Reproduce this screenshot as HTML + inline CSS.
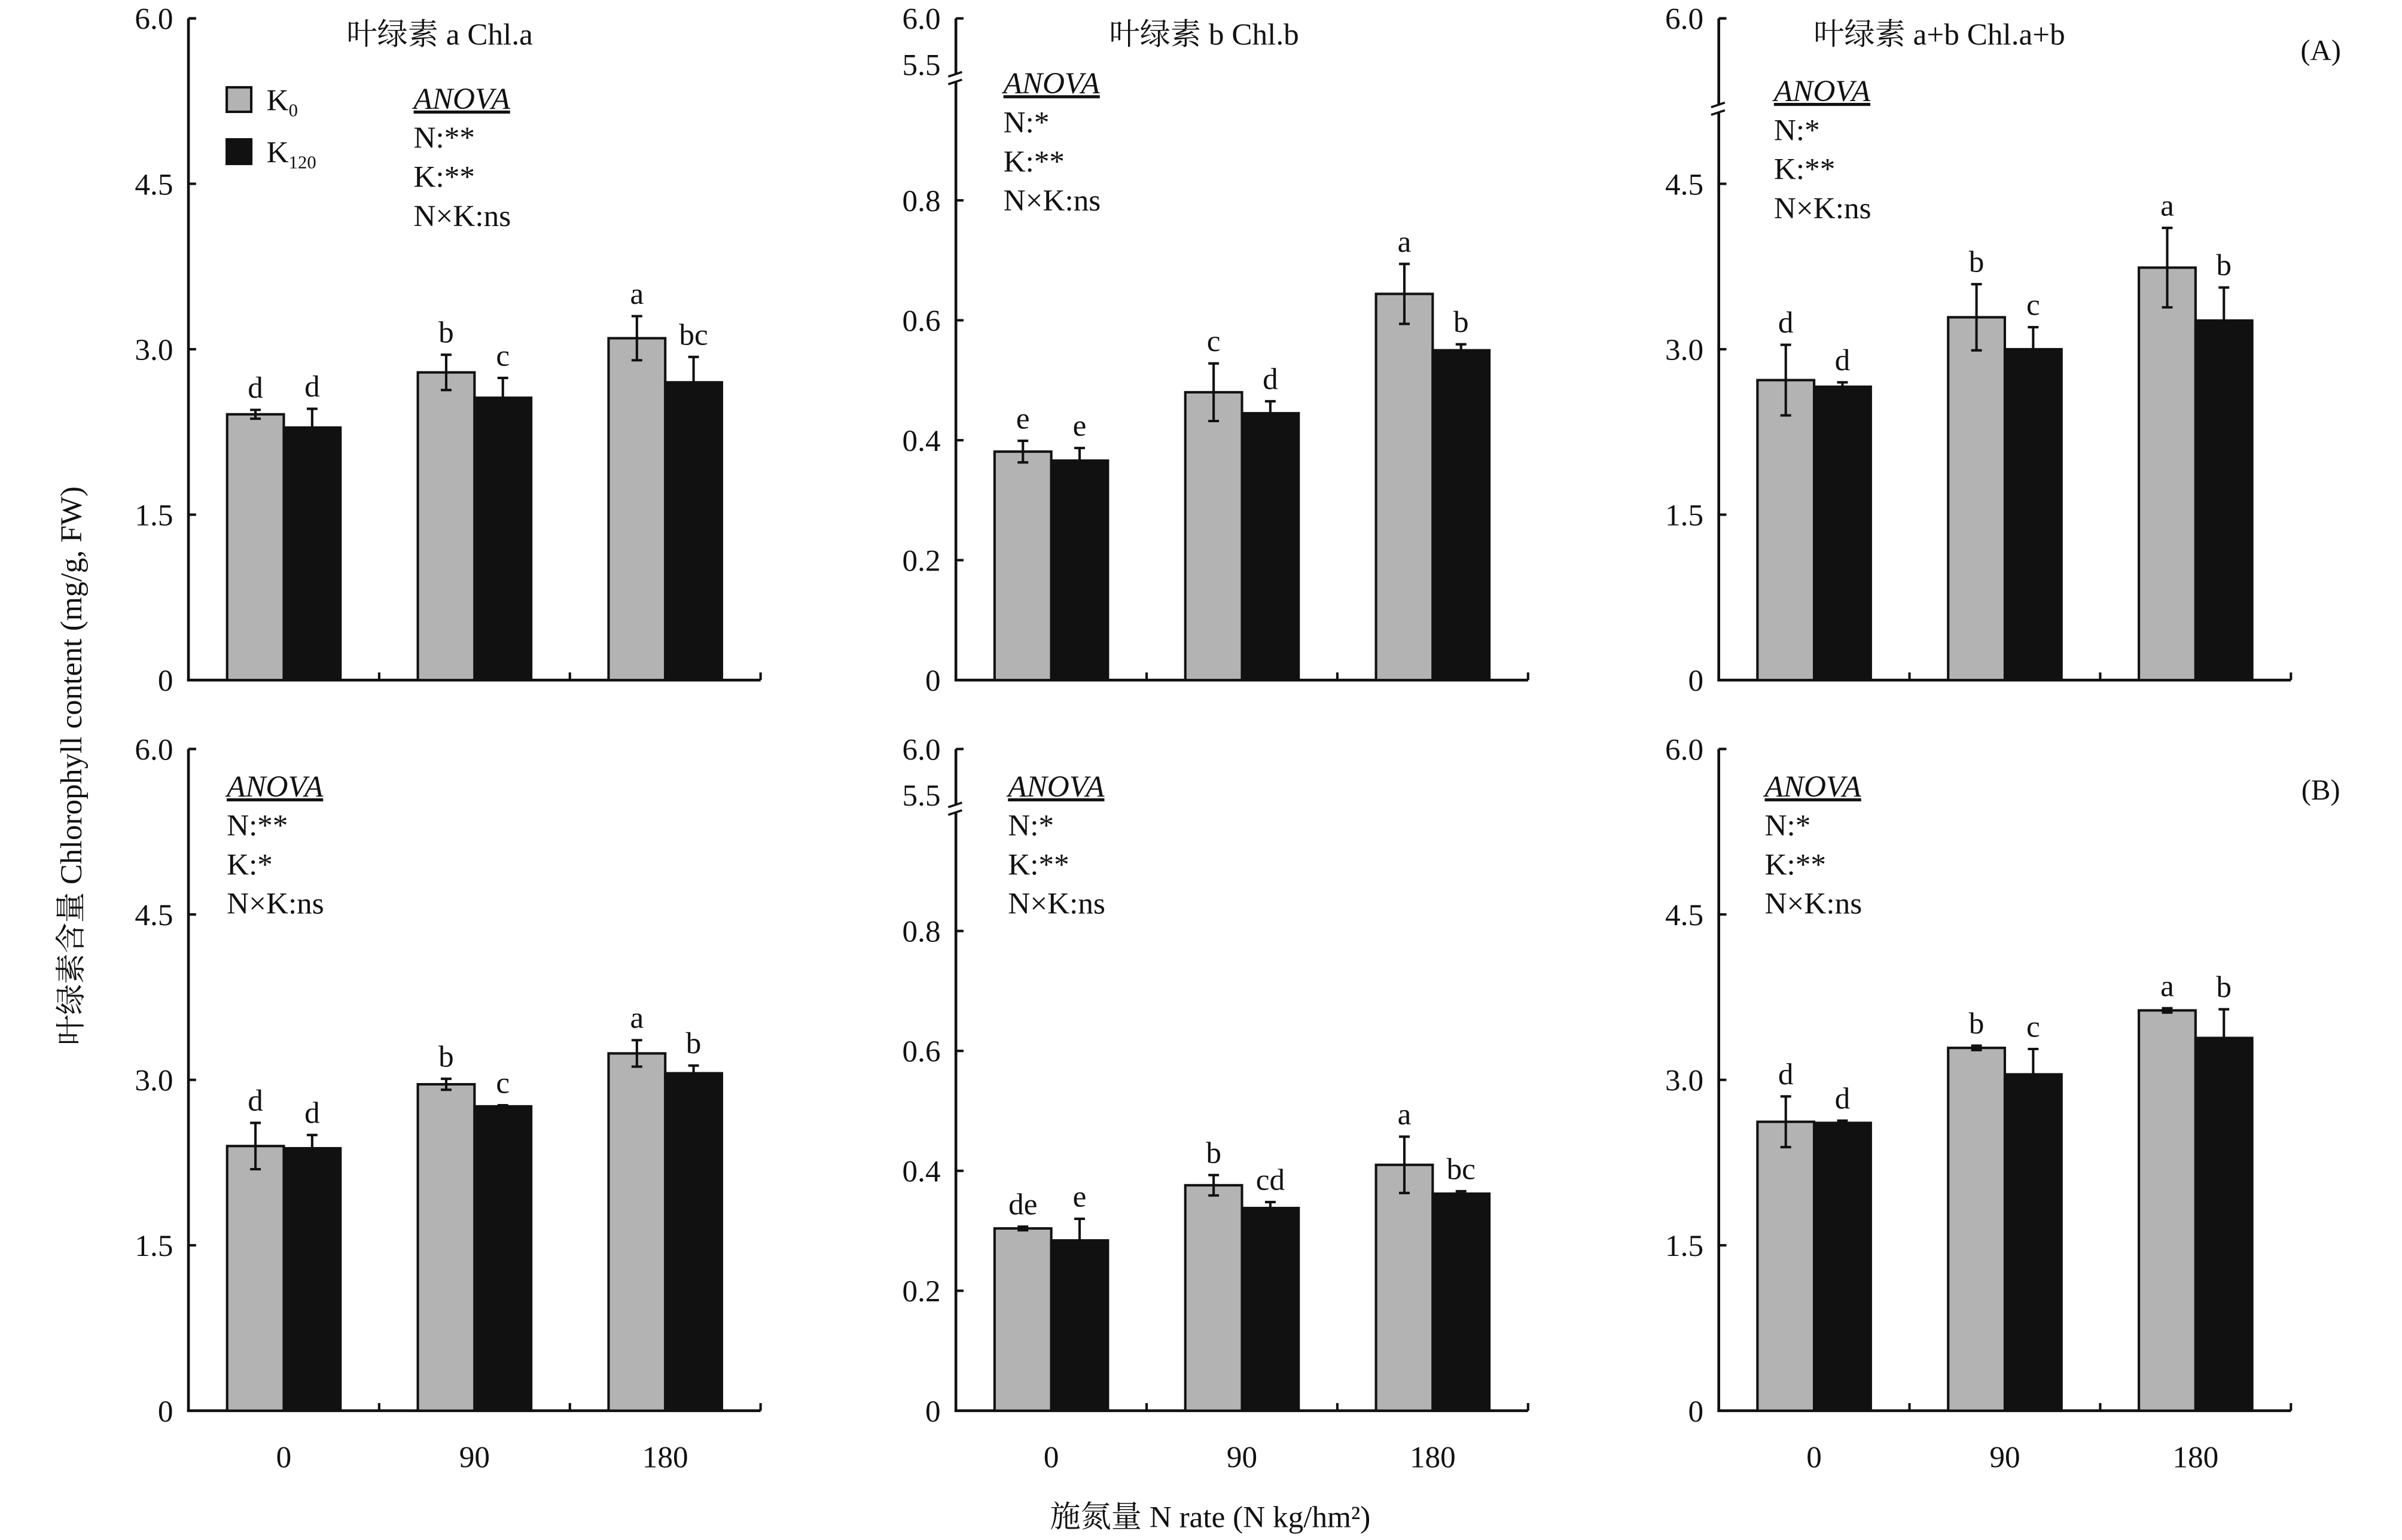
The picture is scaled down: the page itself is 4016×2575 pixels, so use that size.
<!DOCTYPE html>
<html><head><meta charset="utf-8"><style>
html,body{margin:0;padding:0;background:#fff;}
svg{display:block;}
text{font-family:"Liberation Serif","Noto Serif CJK SC","Noto Sans CJK SC",serif;fill:#111;}
</style></head><body>
<svg id="fig" width="4016" height="2575" viewBox="0 0 1568 1005.4" xmlns="http://www.w3.org/2000/svg">
<text x="0" y="0" font-size="20" text-anchor="middle" transform="translate(53,500) rotate(-90)">叶绿素含量 Chlorophyll content (mg/g, FW)</text>
<text x="790" y="997" font-size="20" text-anchor="middle">施氮量 N rate (N kg/hm²)</text>
<text x="1515" y="39" font-size="19" text-anchor="middle">(A)</text>
<text x="1515" y="522" font-size="19" text-anchor="middle">(B)</text>
<g>
<rect x="148" y="57" width="16" height="16" fill="#b3b3b3" stroke="#111" stroke-width="1.6"/>
<text x="174" y="72" font-size="20">K<tspan font-size="12" dy="4">0</tspan></text>
<rect x="148" y="91" width="16" height="16" fill="#111" stroke="#111" stroke-width="1.6"/>
<text x="174" y="106" font-size="20">K<tspan font-size="12" dy="4">120</tspan></text>
</g>
</svg>
<script>
const categories = ["0","90","180"];
const panelTitles = ["叶绿素 a Chl.a","叶绿素 b Chl.b","叶绿素 a+b Chl.a+b","","",""];
// panel order: top-left, top-mid, top-right, bottom-left, bottom-mid, bottom-right
const k0Values = [[2.41,2.79,3.10],[0.381,0.480,0.644],[2.72,3.29,3.74],[2.40,2.96,3.24],[0.304,0.376,0.410],[2.62,3.29,3.63]];
const k0Errors = [[0.04,0.16,0.20],[0.018,0.048,0.050],[0.32,0.30,0.36],[0.21,0.05,0.12],[0.003,0.017,0.047],[0.23,0.02,0.02]];
const k120Values = [[2.29,2.56,2.70],[0.366,0.445,0.550],[2.66,3.00,3.26],[2.38,2.76,3.06],[0.284,0.338,0.362],[2.61,3.05,3.38]];
const k120Errors = [[0.17,0.18,0.23],[0.021,0.020,0.010],[0.04,0.20,0.30],[0.12,0.01,0.07],[0.036,0.010,0.004],[0.02,0.23,0.26]];
const k0Letters = [["d","b","a"],["e","c","a"],["d","b","a"],["d","b","a"],["de","b","a"],["d","b","a"]];
const k120Letters = [["d","c","bc"],["e","d","b"],["d","c","b"],["d","c","b"],["e","cd","bc"],["d","c","b"]];
const tickFull = ["0","1.5","3.0","4.5","6.0"];
const tickFullVals = [0,1.5,3.0,4.5,6.0];
const tickSmall = ["0","0.2","0.4","0.6","0.8"];
const tickSmallVals = [0,0.2,0.4,0.6,0.8];
const anovaN = ["N:**","N:*","N:*","N:**","N:*","N:*"];
const anovaK = ["K:**","K:**","K:**","K:*","K:**","K:**"];

const NS="http://www.w3.org/2000/svg";
const svg=document.getElementById('fig');
function mk(tag,attrs,parent){const e=document.createElementNS(NS,tag);for(const k in attrs)e.setAttribute(k,attrs[k]);(parent||svg).appendChild(e);return e;}
const axX=[123,624,1122];
const axY0=[444,921];
const top6=[12,489];
const catW=124.5;
const FS=20;
for(let p=0;p<6;p++){
  const col=p%3,row=Math.floor(p/3);
  const x0=axX[col],y0=axY0[row];
  const small=(col===1);
  const g=mk('g',{});
  
  
  const yScale=small?(v=>y0-v*391.5):(v=>y0-v*72);
  const ya=mk('line',{x1:x0,y1:top6[row],x2:x0,y2:y0+0.8,stroke:'#111','stroke-width':1.8},g);
  
  
  const xa=mk('line',{x1:x0-0.9,y1:y0,x2:x0+3*catW,y2:y0,stroke:'#111','stroke-width':1.8},g);
  
  
  for(let i=1;i<=3;i++){mk('line',{x1:x0+i*catW,y1:y0,x2:x0+i*catW,y2:y0-5,stroke:'#111','stroke-width':1.6},g);}
  const tl=small?tickSmall:tickFull, tv=small?tickSmallVals:tickFullVals;
  for(let i=0;i<tl.length;i++){
    const y=yScale(tv[i]);
    if(i>0)mk('line',{x1:x0,y1:y,x2:x0+5,y2:y,stroke:'#111','stroke-width':1.6},g);
    const t=mk('text',{x:x0-10,y:y+7,'font-size':FS,'text-anchor':'end'},g);t.textContent=tl[i];
    
    
  }
  if(small){
    mk('line',{x1:x0,y1:top6[row],x2:x0+5,y2:top6[row],stroke:'#111','stroke-width':1.6},g);
    const t6=mk('text',{x:x0-10,y:top6[row]+7,'font-size':FS,'text-anchor':'end'},g);t6.textContent='6.0';
    
    
    const t5=mk('text',{x:x0-10,y:top6[row]+37,'font-size':FS,'text-anchor':'end'},g);t5.textContent='5.5';
    
    
    const by=top6[row]+36;
    mk('rect',{x:x0-4,y:by,width:8,height:5,fill:'#fff'},g);
    mk('line',{x1:x0-5,y1:by+2,x2:x0+4,y2:by-1,stroke:'#111','stroke-width':1.4},g);
    mk('line',{x1:x0-5,y1:by+7,x2:x0+4,y2:by+4,stroke:'#111','stroke-width':1.4},g);
  } else {
    mk('line',{x1:x0,y1:top6[row],x2:x0+5,y2:top6[row],stroke:'#111','stroke-width':1.6},g);
    if(p===2){
      const by=68;
      mk('rect',{x:x0-4,y:by,width:8,height:5,fill:'#fff'},g);
      mk('line',{x1:x0-5,y1:by+2,x2:x0+4,y2:by-1,stroke:'#111','stroke-width':1.4},g);
      mk('line',{x1:x0-5,y1:by+7,x2:x0+4,y2:by+4,stroke:'#111','stroke-width':1.4},g);
    }
  }
  for(let c=0;c<3;c++){
    const cx=x0+catW*(c+0.5);
    const bw=37;
    const series=[[k0Values,k0Errors,k0Letters,'#b3b3b3',cx-bw,'k0'],[k120Values,k120Errors,k120Letters,'#111',cx,'k120']];
    series.forEach(s=>{
      const v=s[0][p][c],e=s[1][p][c];
      const yt=yScale(v);
      const r=mk('rect',{x:s[4],y:yt,width:bw,height:y0-yt,fill:s[3],stroke:'#111','stroke-width':1.6},g);
      
      
      const mx=s[4]+bw/2;
      const yh=yScale(v+e), yl=s[5]==='k0'?yScale(v-e):yt;
      const eb=mk('path',{d:`M${mx},${yh}V${yl}M${mx-3.5},${yh}H${mx+3.5}`+(s[5]==='k0'?`M${mx-3.5},${yl}H${mx+3.5}`:''),stroke:'#111','stroke-width':1.6,fill:'none'},g);
      
      
      const lt=mk('text',{x:mx,y:yh-8,'font-size':FS,'text-anchor':'middle'},g);
      lt.textContent=s[2][p][c];
      
      
    });
    if(row===1){
      const xl=mk('text',{x:cx,y:958,'font-size':FS,'text-anchor':'middle'},g);
      xl.textContent=categories[c];
      
      
    }
  }
  if(panelTitles[p]){
    const tx=[287,786,1266][col];
    const tt=mk('text',{x:tx,y:29,'font-size':FS,'text-anchor':'middle'},g);
    tt.textContent=panelTitles[p];
    
    
  }
  const ax=[[270,655,1158],[148,658,1152]][row][col];
  const ay=[[71,61,66],[520,520,520]][row][col];
  const lines=['ANOVA',anovaN[p],anovaK[p],'N×K:ns'];
  lines.forEach((s,i)=>{
    const t=mk('text',{x:ax,y:ay+i*25.5,'font-size':FS},g);
    t.textContent=s;
    if(i===0){t.setAttribute('font-style','italic');t.setAttribute('text-decoration','underline');}
    
    
  });
}
</script>
</body></html>
